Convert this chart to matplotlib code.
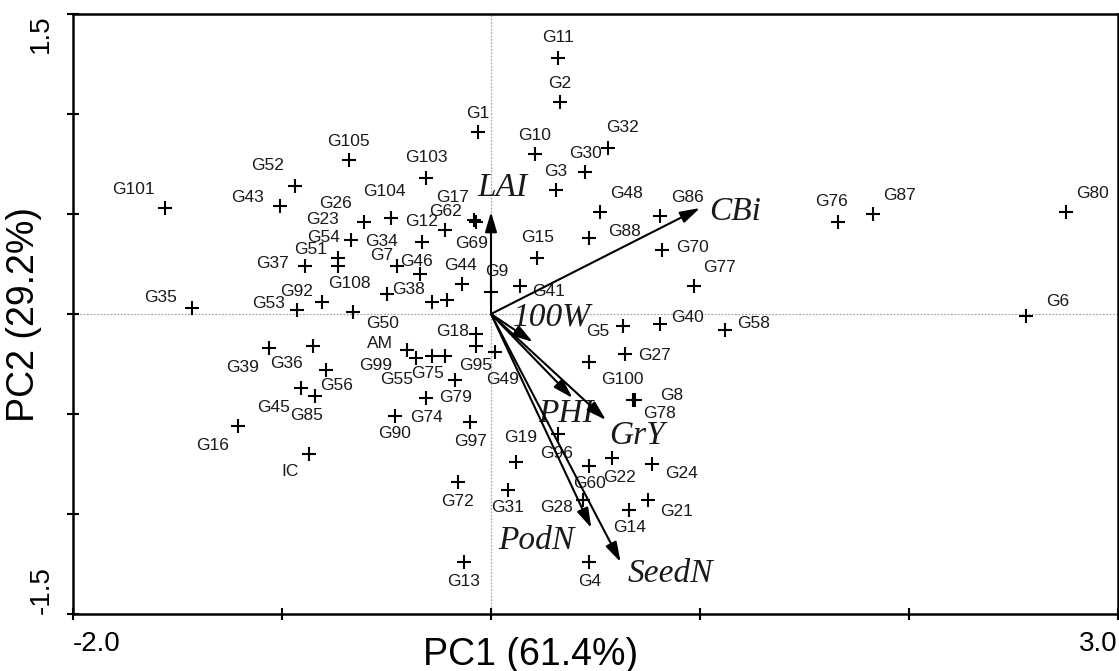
import matplotlib.pyplot as plt

# genotype scores on PC1 / PC2
genotypes = ['G101', 'G43', 'G52', 'G105', 'G103', 'G104', 'G26', 'G23', 'G54', 'G51',
             'G37', 'G12', 'G62', 'G17', 'G69', 'G7', 'G46', 'G108', 'G38', 'G34',
             'G44', 'G9', 'G92', 'G53', 'G50', 'G35', 'G39', 'G36', 'G56', 'G45',
             'G85', 'G16', 'IC', 'AM', 'G99', 'G55', 'G75', 'G18', 'G95', 'G49',
             'G79', 'G74', 'G90', 'G97', 'G72', 'G31', 'G13', 'G19', 'G96', 'G60',
             'G22', 'G24', 'G28', 'G21', 'G14', 'G4', 'G5', 'G40', 'G58', 'G100',
             'G27', 'G8', 'G78', 'G11', 'G2', 'G1', 'G10', 'G32', 'G30', 'G3',
             'G48', 'G86', 'G88', 'G15', 'G70', 'G77', 'G41', 'G76', 'G87', 'G80',
             'G6']
pc1 = [-1.56, -1.01, -0.94, -0.68, -0.31, -0.48, -0.61, -0.67, -0.73, -0.73,
       -0.89, -0.33, -0.22, -0.08, -0.07, -0.45, -0.34, -0.50, -0.28, -0.21,
       -0.14, 0.00, -0.81, -0.93, -0.66, -1.43, -1.06, -0.85, -0.79, -0.91,
       -0.84, -1.21, -0.87, -0.40, -0.36, -0.28, -0.22, -0.07, -0.07, 0.02,
       -0.17, -0.31, -0.46, -0.10, -0.16, 0.08, -0.13, 0.12, 0.32, 0.47,
       0.58, 0.77, 0.44, 0.75, 0.66, 0.47, 0.63, 0.81, 1.12, 0.47,
       0.64, 0.68, 0.69, 0.32, 0.33, -0.06, 0.21, 0.56, 0.45, 0.31,
       0.52, 0.81, 0.47, 0.22, 0.82, 0.97, 0.14, 1.66, 1.83, 2.75,
       2.56]
pc2 = [0.53, 0.54, 0.64, 0.77, 0.68, 0.48, 0.46, 0.37, 0.28, 0.24,
       0.24, 0.36, 0.42, 0.47, 0.46, 0.24, 0.20, 0.10, 0.06, 0.07,
       0.15, 0.11, 0.06, 0.02, 0.01, 0.03, -0.17, -0.16, -0.28, -0.37,
       -0.41, -0.56, -0.70, -0.18, -0.22, -0.21, -0.21, -0.10, -0.16, -0.19,
       -0.33, -0.42, -0.51, -0.54, -0.84, -0.88, -1.24, -0.74, -0.60, -0.76,
       -0.72, -0.75, -0.93, -0.93, -0.98, -1.24, -0.06, -0.05, -0.08, -0.24,
       -0.20, -0.43, -0.43, 1.28, 1.06, 0.91, 0.80, 0.83, 0.71, 0.62,
       0.51, 0.49, 0.38, 0.28, 0.32, 0.14, 0.14, 0.46, 0.50, 0.51,
       -0.01]

# trait vectors
traits = ['LAI', 'CBi', '100W', 'PHI', 'GrY', 'PodN', 'SeedN']
trait_pc1 = [0.00, 1.00, 0.20, 0.39, 0.55, 0.48, 0.62]
trait_pc2 = [0.51, 0.53, -0.14, -0.42, -0.53, -1.07, -1.24]

# label placement (pixels from the point)
label_offset = {
    'G101': (-32, 19), 'G43': (-32, 8), 'G52': (-27, 20), 'G105': (0, 18), 'G103': (0, 20),
    'G104': (-6, 27), 'G26': (-28, 19), 'G23': (-28, 20), 'G54': (-15, 21), 'G51': (-28, 17),
    'G37': (-32, 3), 'G12': (0, 20), 'G62': (0, 18), 'G17': (-22, 23), 'G69': (-5, -22),
    'G7': (-15, 10), 'G46': (-3, 12), 'G108': (-37, 11), 'G38': (-24, 12), 'G34': (-66, 58),
    'G44': (-1, 18), 'G9': (6, 20), 'G92': (-25, 10), 'G53': (-28, 7), 'G50': (30, -11),
    'G35': (-32, 11), 'G39': (-27, -19), 'G36': (-27, -18), 'G56': (11, -15), 'G45': (-27, -19),
    'G85': (-9, -20), 'G16': (-26, -19), 'IC': (-19, -18), 'AM': (-27, 6), 'G99': (-40, -8),
    'G55': (-36, -23), 'G75': (-17, -18), 'G18': (-24, 2), 'G95': (-1, -19), 'G49': (7, -28),
    'G79': (0, -18), 'G74': (0, -19), 'G90': (0, -17), 'G97': (0, -19), 'G72': (0, -19),
    'G31': (0, -18), 'G13': (0, -19), 'G19': (5, 25), 'G96': (-1, -19), 'G60': (0, -18),
    'G22': (7, -19), 'G24': (30, -9), 'G28': (-26, -7), 'G21': (29, -11), 'G14': (1, -18),
    'G4': (0, -19), 'G5': (-25, -5), 'G40': (27, 7), 'G58': (28, 7), 'G100': (33, -17),
    'G27': (30, -1), 'G8': (39, 5), 'G78': (24, -13), 'G11': (0, 20), 'G2': (0, 19),
    'G1': (-1, 19), 'G10': (0, 19), 'G32': (14, 20), 'G30': (0, 19), 'G3': (0, 18),
    'G48': (27, 19), 'G86': (27, 19), 'G88': (35, 6), 'G15': (1, 20), 'G70': (30, 3),
    'G77': (26, 19), 'G41': (28, -5), 'G76': (-6, 21), 'G87': (26, 18), 'G80': (27, 19),
    'G6': (32, 15),
}
trait_offset = {'LAI': (11, 24), 'CBi': (35, -4), '100W': (19, 25), 'PHI': (-7, -16),
                'GrY': (31, -16), 'PodN': (-55, -13), 'SeedN': (50, -12)}

fig = plt.figure(figsize=(11.19, 6.71), dpi=100)
ax = fig.add_axes([73 / 1119, 1 - 614 / 671, 1045 / 1119, 600 / 671])

# dotted zero lines
ax.axhline(0, color='#a8a8a8', lw=0.9, ls=(0, (1.5, 1.2)), zorder=0)
ax.axvline(0, color='#a8a8a8', lw=0.9, ls=(0, (1.5, 1.2)), zorder=0)

# genotypes
ax.plot(pc1, pc2, '+', ms=9.5, mew=1.5, color='black', ls='none')
for name, x, y in zip(genotypes, pc1, pc2):
    ax.annotate(name, (x, y), xytext=label_offset[name], textcoords='offset pixels',
                ha='center', va='center', fontsize=12.5, family='Liberation Sans',
                color='#1a1a1a')

# trait arrows
for t, x, y in zip(traits, trait_pc1, trait_pc2):
    ax.annotate('', xy=(x, y), xytext=(0, 0),
                arrowprops=dict(arrowstyle='-|>,head_length=0.6,head_width=0.18',
                                mutation_scale=20, lw=1.5, color='black',
                                shrinkA=0, shrinkB=0))
    ax.annotate(t, (x, y), xytext=trait_offset[t], textcoords='offset pixels',
                ha='center', va='center', fontsize=24, family='Liberation Serif',
                style='italic', color='#1a1a1a')

ax.set_xlim(-2.0, 3.0)
ax.set_ylim(-1.5, 1.5)
ax.set_xticks([-2, -1, 0, 1, 2, 3])
ax.set_xticklabels(['-2.0', '', '', '', '', '3.0'], family='Liberation Sans')
ax.set_yticks([-1.5, -1.0, -0.5, 0, 0.5, 1.0, 1.5])
ax.set_yticklabels(['-1.5', '', '', '', '', '', '1.5'], rotation=90, family='Liberation Sans')
ax.get_xticklabels()[0].set_ha('left')
ax.get_xticklabels()[-1].set_ha('right')
ax.get_yticklabels()[0].set_va('bottom')
ax.get_yticklabels()[-1].set_va('top')
ax.tick_params(direction='inout', length=9, width=1.5, labelsize=20)
ax.tick_params(axis='x', pad=8)
ax.tick_params(axis='y', pad=9)

for s in ax.spines.values():
    s.set_linewidth(1.8)

ax.set_xlabel('PC1 (61.4%)', fontsize=27, family='Liberation Sans')
ax.xaxis.set_label_coords(0.438, -0.038)
ax.set_ylabel('PC2 (29.2%)', fontsize=27, family='Liberation Sans')
ax.yaxis.set_label_coords(-0.03, 0.5)

fig.savefig('out.png', dpi=100)
